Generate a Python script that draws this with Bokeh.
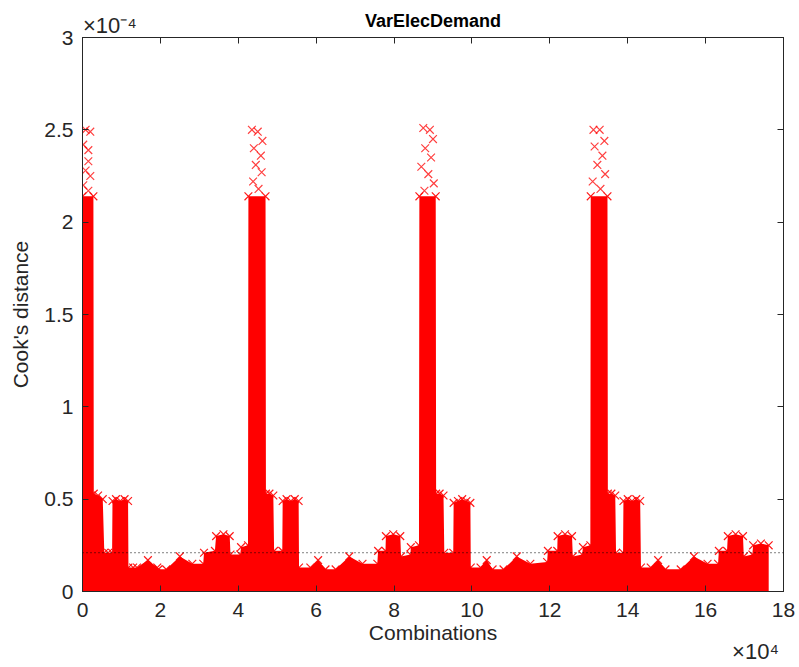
from bokeh.plotting import figure
from bokeh.models import (Range1d, FixedTicker, LinearAxis, Span)
from bokeh.embed import file_html
from bokeh.resources import INLINE

# x in units of 1e4 combinations, y (Cook's distance) in units of 1e-4
# upper envelope of the dense cloud of points
env_x = [0.00, 0.28, 0.29, 0.40, 0.52, 0.56, 0.66, 0.76,
         0.77, 0.86, 0.97, 1.08, 1.17,
         1.18, 1.30, 1.40, 1.68, 1.92, 1.95, 2.15, 2.50, 2.82, 3.10,
         3.12, 3.40, 3.43, 3.62, 3.78, 3.80, 4.05, 4.07, 4.25,
         4.26, 4.70, 4.71, 4.80, 4.90, 4.92, 5.13,
         5.14, 5.24, 5.35, 5.45, 5.55,
         5.56, 5.85, 6.05, 6.24, 6.50, 6.85, 7.19, 7.57,
         7.59, 7.78, 7.79, 7.98, 8.16, 8.18, 8.42, 8.43, 8.64,
         8.65, 9.07, 9.08, 9.17, 9.27, 9.29, 9.52,
         9.53, 9.64, 9.75, 9.86, 9.96,
         9.97, 10.22, 10.38, 10.53, 10.81, 11.15, 11.50, 11.93,
         11.95, 12.19, 12.20, 12.39, 12.57, 12.59, 12.83, 12.85, 13.04,
         13.05, 13.48, 13.49, 13.58, 13.68, 13.70, 13.88,
         13.89, 14.00, 14.11, 14.22, 14.32,
         14.34, 14.59, 14.78, 14.97, 15.36, 15.70, 16.05, 16.32,
         16.34, 16.55, 16.57, 16.77, 16.96, 16.98, 17.20, 17.22, 17.42, 17.62]
env_y = [2.14, 2.14, 0.53, 0.52, 0.50, 0.21, 0.21, 0.21,
         0.49, 0.50, 0.49, 0.50, 0.49,
         0.13, 0.13, 0.13, 0.17, 0.13, 0.12, 0.12, 0.19, 0.15, 0.15,
         0.21, 0.22, 0.30, 0.31, 0.30, 0.20, 0.20, 0.24, 0.25,
         2.14, 2.14, 0.53, 0.53, 0.52, 0.22, 0.22,
         0.49, 0.50, 0.49, 0.50, 0.49,
         0.13, 0.13, 0.17, 0.12, 0.12, 0.19, 0.15, 0.15,
         0.22, 0.22, 0.30, 0.31, 0.30, 0.19, 0.20, 0.24, 0.25,
         2.14, 2.14, 0.53, 0.53, 0.52, 0.21, 0.21,
         0.48, 0.49, 0.50, 0.49, 0.48,
         0.13, 0.13, 0.17, 0.12, 0.12, 0.19, 0.15, 0.16,
         0.22, 0.22, 0.30, 0.31, 0.30, 0.19, 0.20, 0.24, 0.25,
         2.14, 2.14, 0.53, 0.53, 0.52, 0.21, 0.21,
         0.49, 0.50, 0.49, 0.50, 0.49,
         0.13, 0.13, 0.17, 0.12, 0.12, 0.19, 0.15, 0.15,
         0.22, 0.22, 0.30, 0.31, 0.30, 0.19, 0.20, 0.25, 0.26, 0.25]

# sparse points above the dense part of the four spikes
top_x = [0.08, 0.20, 0.02, 0.15, 0.15, 0.08, 0.20, 0.02, 0.15,
         4.35, 4.50, 4.62, 4.40, 4.58, 4.45, 4.60, 4.38, 4.52,
         8.75, 8.92, 9.00, 8.80, 8.95, 8.70, 8.88, 9.02, 8.78,
         13.12, 13.28, 13.40, 13.15, 13.35, 13.22, 13.42, 13.10, 13.30]
top_y = [2.50, 2.49, 2.42, 2.39, 2.33, 2.28, 2.25, 2.20, 2.17,
         2.50, 2.49, 2.44, 2.40, 2.36, 2.31, 2.27, 2.22, 2.18,
         2.51, 2.50, 2.45, 2.40, 2.35, 2.30, 2.26, 2.21, 2.17,
         2.50, 2.50, 2.44, 2.41, 2.36, 2.31, 2.26, 2.22, 2.18]

threshold = 0.21
x_ticks = [0, 2, 4, 6, 8, 10, 12, 14, 16, 18]
y_ticks = [0, 0.5, 1, 1.5, 2, 2.5, 3]
y_tick_labels = ["0", "0.5", "1", "1.5", "2", "2.5", "3"]
title_text = "VarElecDemand"
y_exponent = "×10⁻⁴"
x_exponent = "×10⁴"

# layout constants (anchor positions of the exponent texts, in axis units)
Y_EXP_AT = 0.70
X_EXP_AT = 17.28

FONT = "Liberation Sans"
DARK = "#262626"

p = figure(width=799, height=667, output_backend="svg", toolbar_location=None,
           x_range=Range1d(0, 18), y_range=Range1d(0, 3),
           min_border_left=82, min_border_right=16, min_border_top=37,
           min_border_bottom=76)
p.title = None
p.background_fill_color = "white"
p.border_fill_color = "white"
p.outline_line_color = DARK
p.grid.visible = False

def style_axis(ax, size="21px"):
    ax.axis_line_color = DARK
    ax.major_tick_line_color = DARK
    ax.major_tick_in = 6
    ax.major_tick_out = 0
    ax.minor_tick_line_color = None
    ax.major_label_text_font = FONT
    ax.major_label_text_color = DARK
    ax.major_label_text_font_size = size

def text_only_axis(ax):
    ax.axis_line_color = None
    ax.major_tick_line_color = None
    ax.minor_tick_line_color = None
    ax.major_label_text_font = FONT
    ax.major_label_text_font_size = "22px"
    ax.major_label_text_color = DARK

p.xaxis.ticker = FixedTicker(ticks=x_ticks)
p.yaxis.ticker = FixedTicker(ticks=y_ticks)
p.yaxis.major_label_overrides = {t: s for t, s in zip(y_ticks, y_tick_labels)}
style_axis(p.xaxis[0])
style_axis(p.yaxis[0])
p.xaxis.major_label_standoff = 11
p.yaxis.major_label_standoff = 9
p.xaxis.axis_label = "Combinations"
p.yaxis.axis_label = "Cook's distance"
for ax in (p.xaxis[0], p.yaxis[0]):
    ax.axis_label_text_font = FONT
    ax.axis_label_text_font_size = "21px"
    ax.axis_label_text_font_style = "normal"
    ax.axis_label_text_color = DARK
p.xaxis.axis_label_standoff = 1
p.yaxis.axis_label_standoff = 9

# top box edge: ticks only
top_ax = LinearAxis(ticker=FixedTicker(ticks=x_ticks))
style_axis(top_ax, size="0px")
top_ax.major_label_text_alpha = 0
top_ax.major_label_standoff = 0
p.add_layout(top_ax, "above")

# above it: the y exponent (left) and the title (centre)
head_ax = LinearAxis(ticker=FixedTicker(ticks=[Y_EXP_AT]))
text_only_axis(head_ax)
head_ax.major_label_overrides = {Y_EXP_AT: y_exponent}
head_ax.major_label_standoff = -6
head_ax.axis_label = title_text
head_ax.axis_label_text_font = FONT
head_ax.axis_label_text_font_size = "18px"
head_ax.axis_label_text_font_style = "bold"
head_ax.axis_label_text_color = "black"
head_ax.axis_label_standoff = -21
p.add_layout(head_ax, "above")

# right box edge: ticks only
right_ax = LinearAxis(ticker=FixedTicker(ticks=y_ticks))
style_axis(right_ax, size="0px")
right_ax.major_label_text_alpha = 0
right_ax.major_label_standoff = 0
p.add_layout(right_ax, "right")

# x exponent below the x axis, at the right end
exp_ax = LinearAxis(ticker=FixedTicker(ticks=[X_EXP_AT]))
text_only_axis(exp_ax)
exp_ax.major_label_overrides = {X_EXP_AT: x_exponent}
exp_ax.major_label_standoff = -14
p.add_layout(exp_ax, "below")

RED = "#FF0000"
p.varea(x=env_x, y1=0, y2=env_y, fill_color=RED, fill_alpha=1.0)
p.scatter(x=env_x, y=env_y, marker="x", size=11, line_color=RED,
          line_width=1.2, line_alpha=0.9)
p.scatter(x=top_x, y=top_y, marker="x", size=11, line_color=RED,
          line_width=1.2, line_alpha=0.75)

p.add_layout(Span(location=threshold, dimension="width", line_color="black",
                  line_dash="1 3", line_width=1))

open("out.html", "w").write(file_html(p, INLINE))
